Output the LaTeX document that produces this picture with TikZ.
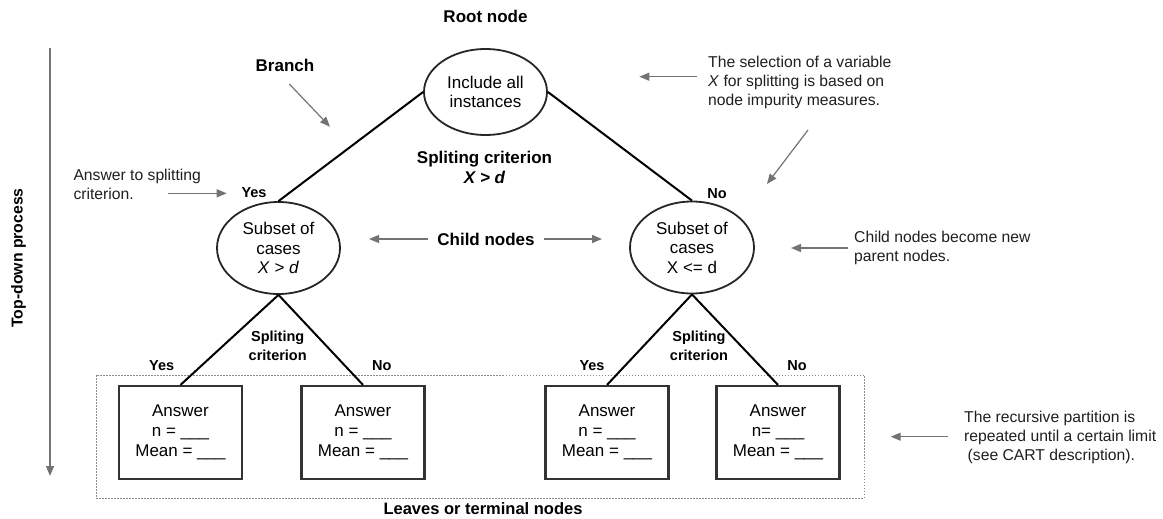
\documentclass[tikz,border=0pt]{standalone}
\usepackage{fontspec}
\setmainfont{Liberation Sans}
\usetikzlibrary{arrows.meta,shapes.geometric}

\begin{document}
\begin{tikzpicture}[x=1pt,y=-1pt,
  treeline/.style={line width=2pt,black},
  ellnode/.style={ellipse,draw=black!85,line width=1.8pt,inner sep=0pt,align=center,
    font=\fontsize{17}{19.5}\selectfont},
  leafbox/.style={rectangle,draw=black!80,line width=2.2pt,minimum width=123pt,minimum height=93pt,
    inner sep=0pt,align=center,font=\fontsize{17}{20}\selectfont},
  note/.style={inner sep=0pt,anchor=west,align=left,text=black!88,font=\fontsize{15.7}{19}\selectfont},
  bigtag/.style={inner sep=0pt,align=center,font=\fontsize{17}{20}\selectfont\bfseries},
  smalltag/.style={inner sep=0pt,align=center,font=\fontsize{14.5}{19}\selectfont\bfseries},
  pointer/.style={draw=black!55,line width=1.2pt,-{Triangle[length=10pt,width=8pt]}},
  leafarea/.style={draw=black!45,line width=1pt,dash pattern=on 1.5pt off 1.5pt}
]
\useasboundingbox (0,0) rectangle (1163,519);

% tree nodes
\node[ellnode,minimum width=123pt,minimum height=86pt] (root) at (485.5,92) {Include all\\instances};
\node[ellnode,minimum width=123pt,minimum height=92pt] (lc) at (278.5,248) {Subset of\\cases\\\textit{X} > \textit{d}};
\node[ellnode,minimum width=124pt,minimum height=92pt] (rc) at (692,247.5) {Subset of\\cases\\X <= d};

% region holding the leaves
\draw[leafarea] (96,375) rectangle (864,498);

\node[leafbox] (l1) at (180.5,432.5) {Answer\\n = \_\_\_\\Mean = \_\_\_};
\node[leafbox] (l2) at (363,432.5) {Answer\\n = \_\_\_\\Mean = \_\_\_};
\node[leafbox] (l3) at (607,432.5) {Answer\\n = \_\_\_\\Mean = \_\_\_};
\node[leafbox] (l4) at (778,432.5) {Answer\\n= \_\_\_\\Mean = \_\_\_};

% branches
\draw[treeline] (root.west) -- (lc.north);
\draw[treeline] (root.east) -- (rc.north);
\draw[treeline] (lc.south) -- (l1.north);
\draw[treeline] (lc.south) -- (l2.north);
\draw[treeline] (rc.south) -- (l3.north);
\draw[treeline] (rc.south) -- (l4.north);

% labels
\node[bigtag] (rootlbl) at (485.5,16) {Root node};
\node[bigtag] (branchlbl) at (285,65) {Branch};
\node[bigtag] (crit) at (484.5,167) {Spliting criterion\\\itshape X > d};
\node[bigtag] (childlbl) at (486,239) {Child nodes};
\node[bigtag,font=\fontsize{16.5}{20}\selectfont\bfseries] (leaveslbl) at (483,509) {Leaves or terminal nodes};
\node[bigtag,font=\fontsize{15.8}{20}\selectfont\bfseries,rotate=90] (topdown) at (18.5,258) {Top-down process};

\node[smalltag] (yes0) at (254,193) {Yes};
\node[smalltag] (no0) at (717,194) {No};
\node[smalltag] (critl) at (277.7,346) {Spliting\\criterion};
\node[smalltag] (critr) at (699,346) {Spliting\\criterion};
\node[smalltag] (yes1) at (161.7,366) {Yes};
\node[smalltag] (no1) at (381.7,366) {No};
\node[smalltag] (yes2) at (592,366) {Yes};
\node[smalltag] (no2) at (797,366) {No};

% annotations
\node[note] (selnote) at (708,82) {The selection of a variable\\\textit{X} for splitting is based on\\node impurity measures.};
\node[note] (ansnote) at (73.3,184) {Answer to splitting\\criterion.};
\node[note] (parnote) at (854,247.5) {Child nodes become new\\parent nodes.};
\node[note] (recnote) at (964,437) {The recursive partition is\\repeated until a certain limit\\\hspace{3.5pt}(see CART description).};

% pointer ends
\coordinate (s1a) at (696.7,76.7);  \coordinate (s1b) at (639.3,76.7);
\coordinate (s2a) at (808,130);     \coordinate (s2b) at (767,184);
\coordinate (bra) at (289.3,84);    \coordinate (brb) at (330,126.7);
\coordinate (ana) at (168.3,193.3); \coordinate (anb) at (226.7,193.3);
\coordinate (cla) at (428,239);     \coordinate (clb) at (369,239);
\coordinate (cra) at (544,239);     \coordinate (crb) at (602,239);
\coordinate (pna) at (848,248);     \coordinate (pnb) at (791,248);
\coordinate (rca) at (948,436.7);   \coordinate (rcb) at (890.7,436.7);
\coordinate (tda) at (50,47.7);     \coordinate (tdb) at (50,476);

\draw[pointer] (s1a) -- (s1b);
\draw[pointer] (s2a) -- (s2b);
\draw[pointer] (bra) -- (brb);
\draw[pointer] (ana) -- (anb);
\draw[pointer] (cla) -- (clb);
\draw[pointer] (cra) -- (crb);
\draw[pointer] (pna) -- (pnb);
\draw[pointer] (rca) -- (rcb);
\draw[pointer] (tda) -- (tdb);
\end{tikzpicture}
\end{document}
